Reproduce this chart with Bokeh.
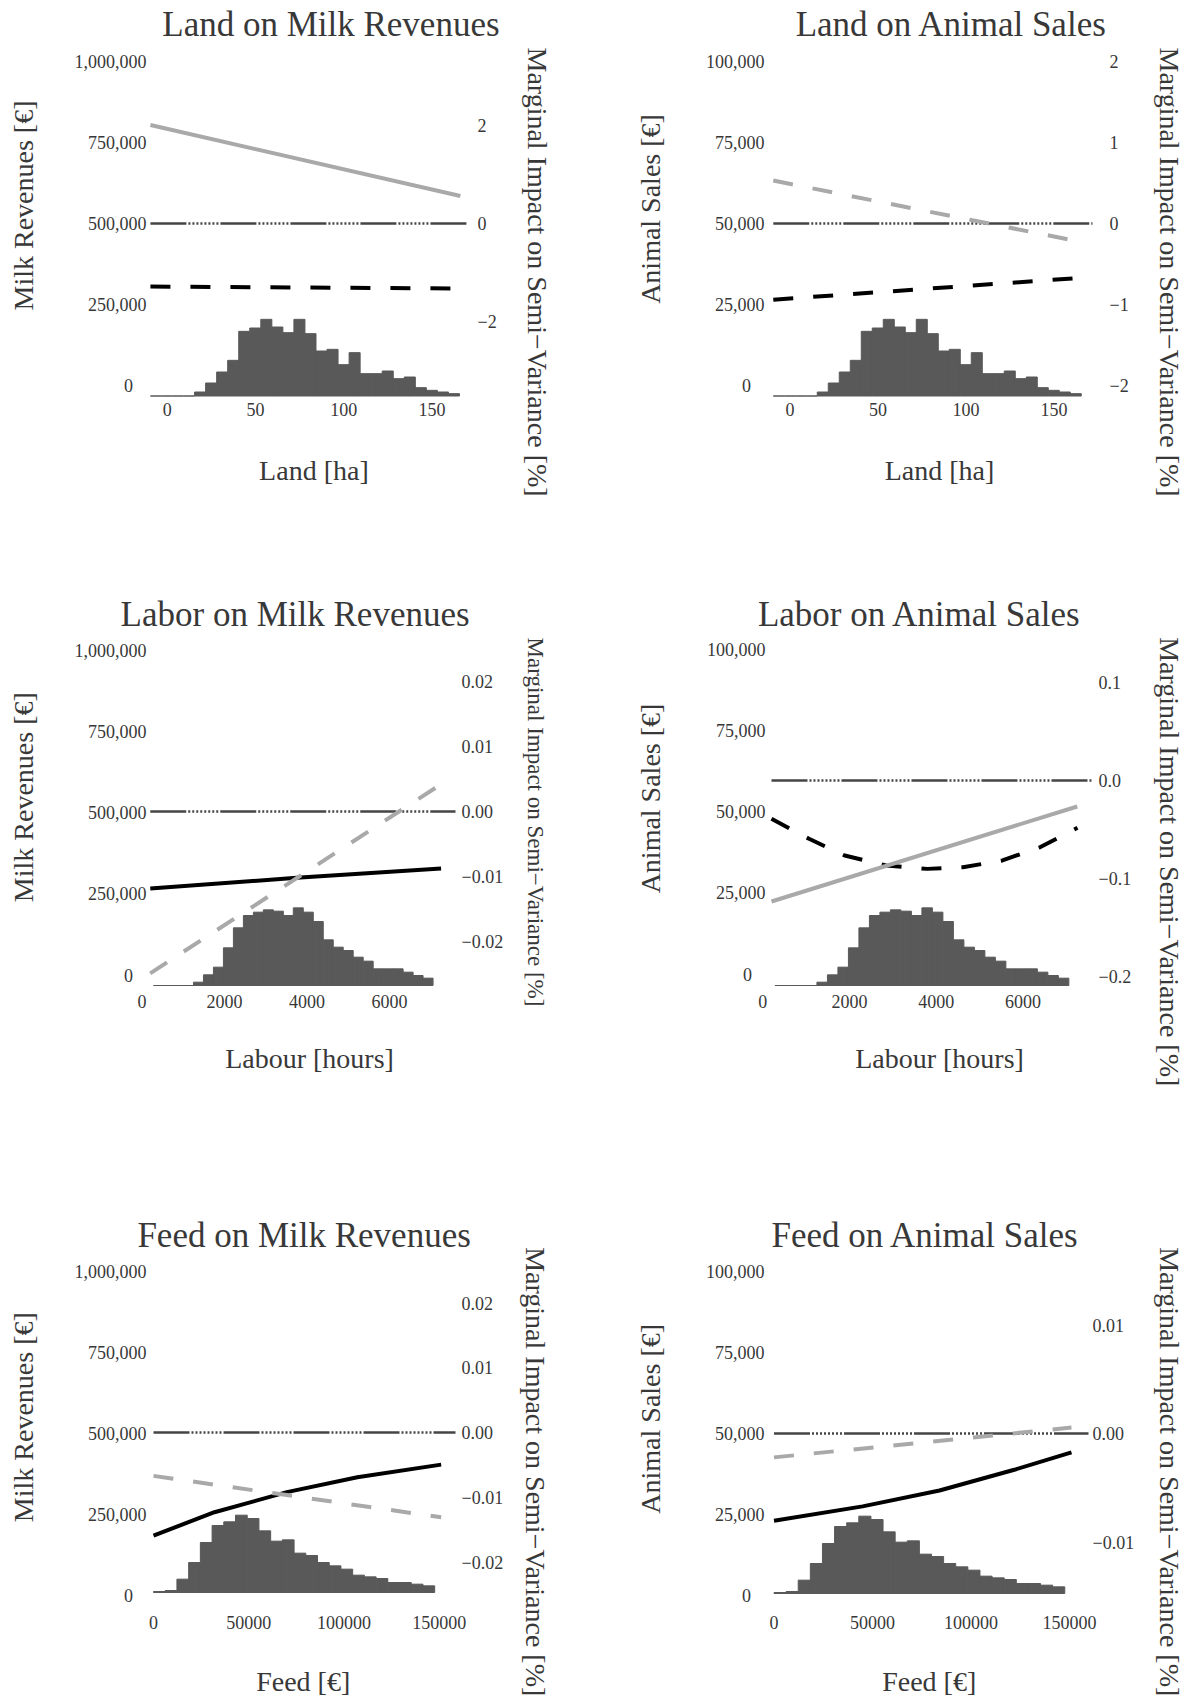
import math
from bokeh.plotting import figure
from bokeh.models import (Range1d, LinearAxis, FixedTicker, NumeralTickFormatter,
                          CustomJSTickFormatter, Label)
from bokeh.layouts import column, row
from bokeh.embed import file_html
from bokeh.resources import INLINE

FONT = "Liberation Serif"
TEXT = "#383838"
HIST = "#595959"
GRAY = "#a9a9a9"
ZERO = "#454545"

# ------------------------------------------------------------------ data
# histograms of the explanatory variables (frequencies)
land_bin_start = -9.5
land_bin_width = 6.25
land_counts = [0, 0, 0, 0, 12, 39, 72, 107, 194, 204, 230, 207, 190, 230, 187, 135,
               140, 94, 130, 67, 67, 75, 52, 57, 25, 17, 12, 7]
labor_bin_start = 280
labor_bin_width = 242
labor_counts = [0, 0, 0, 0, 10, 32, 55, 113, 173, 210, 220, 227, 223, 210, 233, 220,
                192, 137, 115, 105, 85, 73, 50, 50, 50, 40, 30, 22]
feed_bin_start = 0
feed_bin_width = 6150
feed_counts = [3, 6, 40, 90, 150, 201, 212, 232, 222, 185, 154, 158, 118, 111, 90, 80,
               70, 52, 47, 42, 30, 30, 25, 20]

# fitted curves: revenue (left axis) and marginal impact on semi-variance (right axis)
land_x = [-9.5, 166]
land_milk_revenue = [305500, 299200]
land_milk_msv = [2.01, 0.56]
land_animal_revenue = [26500, 33250]
land_animal_msv = [0.53, -0.23]

labor_x = [200, 7250]
labor_milk_x = [200, 3750, 7250]
labor_milk_revenue = [267700, 300600, 329200]
labor_milk_msv = [-0.0249, 0.0042]
labor_animal_x = [200, 1065, 1888, 2840, 3792, 4615, 5526, 6390, 7255]
labor_animal_revenue = [47900, 41750, 36600, 33550, 32500, 33000, 35100, 39150, 45150]
labor_animal_msv = [-0.1235, -0.0265]

feed_x = [0, 151000]
feed_milk_x = [0, 32000, 70000, 107000, 151000]
feed_milk_revenue = [185000, 257000, 319000, 365000, 404000]
feed_milk_msv = [-0.0067, -0.0131]
feed_animal_x = [0, 45000, 84000, 122000, 151000]
feed_animal_revenue = [23100, 27500, 32400, 38800, 44200]
feed_animal_msv = [-0.0022, 0.00055]

# tick values
milk_ticks = [0, 250000, 500000, 750000, 1000000]
animal_ticks = [0, 25000, 50000, 75000, 100000]
land_ticks = [0, 50, 100, 150]
labor_ticks = [0, 2000, 4000, 6000]
feed_ticks = [0, 50000, 100000, 150000]
msv_ticks_land_milk = [-2, 0, 2]
msv_ticks_land_animal = [-2, -1, 0, 1, 2]
msv_ticks_labor_milk = [-0.02, -0.01, 0, 0.01, 0.02]
msv_ticks_labor_animal = [-0.2, -0.1, 0, 0.1]
msv_ticks_feed_milk = [-0.02, -0.01, 0, 0.01, 0.02]
msv_ticks_feed_animal = [-0.01, 0, 0.01]

RIGHT_TITLE = "Marginal Impact on Semi\u2212Variance [%]"

# ------------------------------------------------------------------ layout
DASH = "20 20"
ZERO_DASH = "36" + " 2" * 17


def lin(cal):
    (v0, p0), (v1, p1) = cal
    return lambda px: v0 + (px - p0) * (v1 - v0) / (p1 - p0)


def style_axis(ax, standoff):
    ax.axis_line_color = None
    ax.major_tick_line_color = None
    ax.minor_tick_line_color = None
    ax.major_tick_out = 0
    ax.major_tick_in = 0
    ax.minor_tick_out = 0
    ax.minor_tick_in = 0
    ax.major_label_standoff = standoff
    ax.major_label_text_font = FONT
    ax.major_label_text_font_size = "18px"
    ax.major_label_text_color = TEXT


def panel(cfg):
    ox, oy, W, H = cfg["fig"]
    L, T, R, B = cfg["frame"]
    fx = lin(cfg["xcal"])
    fyl = lin(cfg["ylcal"])
    fyr = lin(cfg["yrcal"])
    hb = cfg["hist_base"]
    fh = lambda px: (hb - px) * 3.0

    # the frame covers the whole canvas; axes are pinned at the plot-region edges
    p = figure(width=W, height=H, output_backend="svg", toolbar_location=None,
               x_range=Range1d(fx(ox), fx(ox + W)), y_range=Range1d(fyl(oy + H), fyl(oy)),
               min_border_left=0, min_border_right=0, min_border_top=0, min_border_bottom=0)
    p.extra_y_ranges = {"right": Range1d(fyr(oy + H), fyr(oy)),
                        "hist": Range1d(fh(oy + H), fh(oy))}
    p.outline_line_color = None
    p.xgrid.visible = False
    p.ygrid.visible = False
    p.background_fill_color = "white"
    p.border_fill_color = "white"

    # histogram
    start, width, counts = cfg["hist"]
    edges = [start + i * width for i in range(len(counts) + 1)]
    p.quad(left=edges[:-1], right=edges[1:], bottom=0, top=counts, y_range_name="hist",
           fill_color=HIST, line_color=HIST, line_width=1)

    # zero reference of the right axis
    p.line(x=[cfg["msv"][0][0], fx(R)], y=[0, 0], y_range_name="right",
           line_color=ZERO, line_width=2.5, line_dash=ZERO_DASH)

    # revenue curve (left axis)
    rx, ry, rdash = cfg["rev"]
    p.line(x=rx, y=ry, line_color="black", line_width=4,
           line_dash=(DASH if rdash else "solid"))
    # marginal impact curve (right axis)
    mx, my, mdash = cfg["msv"]
    p.line(x=mx, y=my, y_range_name="right", line_color=GRAY, line_width=4,
           line_dash=(DASH if mdash else "solid"))

    # axes
    yl = p.yaxis[0]
    yl.ticker = FixedTicker(ticks=cfg["yticks"])
    yl.formatter = NumeralTickFormatter(format="0,0")
    yl.major_label_overrides = {0: "0\u2007\u2008"}
    yl.fixed_location = fx(L)
    style_axis(yl, cfg["stand"][0])

    yr = LinearAxis(y_range_name="right", ticker=FixedTicker(ticks=cfg["rticks"]),
                    formatter=CustomJSTickFormatter(
                        args=dict(d=cfg["rdec"]),
                        code="return tick.toFixed(d).replace('-', '\u2212');"),
                    fixed_location=fx(R))
    style_axis(yr, cfg["stand"][1])
    p.add_layout(yr, "right")

    xa = p.xaxis[0]
    xa.ticker = FixedTicker(ticks=cfg["xticks"])
    xa.formatter = NumeralTickFormatter(format="0")
    xa.fixed_location = fyl(B)
    style_axis(xa, cfg["stand"][2])

    # texts (anchored at their visual centre line)
    t, tx, ty = cfg["title"]
    p.add_layout(Label(x=fx(tx), y=fyl(ty), text=t, text_align="center",
                       text_baseline="alphabetic", text_font=FONT,
                       text_font_size="35px", text_color=TEXT))
    t, tx, ty = cfg["xtitle"]
    p.add_layout(Label(x=fx(tx), y=fyl(ty), text=t, text_align="center",
                       text_baseline="alphabetic", text_font=FONT,
                       text_font_size="28px", text_color=TEXT))
    t, tx, ty = cfg["ytitle"]
    p.add_layout(Label(x=fx(tx), y=fyl(ty), text=t, text_align="center",
                       text_baseline="alphabetic", angle=math.pi / 2, text_font=FONT,
                       text_font_size="28px", text_color=TEXT))
    tx, ty, fs = cfg["rtitle"]
    p.add_layout(Label(x=fx(tx), y=fyl(ty), text=RIGHT_TITLE, text_align="left",
                       text_baseline="alphabetic", angle=-math.pi / 2, text_font=FONT,
                       text_font_size=fs, text_color=TEXT))
    return p


configs = [
    dict(fig=(0, 0, 598, 588), frame=(148, 52, 466, 400),
         xcal=((0, 166.7), (150, 431.6)), ylcal=((0, 385), (1e6, 61)),
         yrcal=((0, 223), (2, 125)), hist_base=395.5,
         hist=(land_bin_start, land_bin_width, land_counts),
         rev=(land_x, land_milk_revenue, True), msv=(land_x, land_milk_msv, False),
         yticks=milk_ticks, rticks=msv_ticks_land_milk, rdec=0, xticks=land_ticks,
         stand=(2, 11, 2),
         title=("Land on Milk Revenues", 330.4, 24),
         xtitle=("Land [ha]", 313.4, 469.5),
         ytitle=("Milk Revenues [\u20ac]", 22.5, 205),
         rtitle=(536.8, 47, "28px")),
    dict(fig=(598, 0, 591, 588), frame=(772, 52, 1092, 400),
         xcal=((0, 789.5), (100, 965.5)), ylcal=((0, 385), (1e5, 61)),
         yrcal=((0, 223), (2, 61)), hist_base=395.5,
         hist=(land_bin_start, land_bin_width, land_counts),
         rev=(land_x, land_animal_revenue, True), msv=(land_x, land_animal_msv, True),
         yticks=animal_ticks, rticks=msv_ticks_land_animal, rdec=0, xticks=land_ticks,
         stand=(8, 17, 2),
         title=("Land on Animal Sales", 951.2, 24),
         xtitle=("Land [ha]", 939, 469.5),
         ytitle=("Animal Sales [\u20ac]", 650, 208.5),
         rtitle=(1168.5, 47, "28px")),
    dict(fig=(0, 588, 598, 617), frame=(135, 642, 455, 989),
         xcal=((0, 141.5), (4000, 306.5)), ylcal=((0, 975), (1e6, 650)),
         yrcal=((0, 811), (0.02, 681)), hist_base=985,
         hist=(labor_bin_start, labor_bin_width, labor_counts),
         rev=(labor_milk_x, labor_milk_revenue, False), msv=(labor_x, labor_milk_msv, True),
         yticks=milk_ticks, rticks=msv_ticks_labor_milk, rdec=2, xticks=labor_ticks,
         stand=(-11, 6, 5),
         title=("Labor on Milk Revenues", 294.6, 614),
         xtitle=("Labour [hours]", 309, 1057.5),
         ytitle=("Milk Revenues [\u20ac]", 22.5, 796.7),
         rtitle=(534.5, 637, "23px")),
    dict(fig=(598, 588, 591, 617), frame=(757, 642, 1092, 989),
         xcal=((0, 762.3), (4000, 935.8)), ylcal=((0, 974), (1e5, 649)),
         yrcal=((0, 780), (0.1, 682)), hist_base=985,
         hist=(labor_bin_start, labor_bin_width, labor_counts),
         rev=(labor_animal_x, labor_animal_revenue, True), msv=(labor_x, labor_animal_msv, False),
         yticks=animal_ticks, rticks=msv_ticks_labor_animal, rdec=1, xticks=labor_ticks,
         stand=(-8, 6, 5),
         title=("Labor on Animal Sales", 919.3, 614),
         xtitle=("Labour [hours]", 939, 1057.5),
         ytitle=("Animal Sales [\u20ac]", 650, 798),
         rtitle=(1168.5, 636.7, "28px")),
    dict(fig=(0, 1205, 598, 493), frame=(149, 1262, 455, 1597),
         xcal=((0, 153), (100000, 343.5)), ylcal=((0, 1595), (1e6, 1271)),
         yrcal=((0, 1432), (0.02, 1302.5)), hist_base=1592,
         hist=(feed_bin_start, feed_bin_width, feed_counts),
         rev=(feed_milk_x, feed_milk_revenue, False), msv=(feed_x, feed_milk_msv, True),
         yticks=milk_ticks, rticks=msv_ticks_feed_milk, rdec=2, xticks=feed_ticks,
         stand=(3, 6, 18),
         title=("Feed on Milk Revenues", 303.6, 1234.5),
         xtitle=("Feed [\u20ac]", 302.7, 1680.5),
         ytitle=("Milk Revenues [\u20ac]", 22.5, 1416.7),
         rtitle=(534.8, 1246.7, "28px")),
    dict(fig=(598, 1205, 591, 493), frame=(768, 1262, 1088, 1597),
         xcal=((0, 773.5), (100000, 970.5)), ylcal=((0, 1595), (1e5, 1271)),
         yrcal=((0, 1433), (0.01, 1324.5)), hist_base=1593,
         hist=(feed_bin_start, feed_bin_width, feed_counts),
         rev=(feed_animal_x, feed_animal_revenue, False), msv=(feed_x, feed_animal_msv, True),
         yticks=animal_ticks, rticks=msv_ticks_feed_animal, rdec=2, xticks=feed_ticks,
         stand=(4, 4, 18),
         title=("Feed on Animal Sales", 925, 1234.5),
         xtitle=("Feed [\u20ac]", 928.7, 1680.5),
         ytitle=("Animal Sales [\u20ac]", 650, 1418.3),
         rtitle=(1168.5, 1246.7, "28px")),
]

plots = [panel(c) for c in configs]
layout = column(row(plots[0], plots[1]), row(plots[2], plots[3]), row(plots[4], plots[5]))

with open("out.html", "w", encoding="utf-8") as f:
    f.write(file_html(layout, INLINE))
